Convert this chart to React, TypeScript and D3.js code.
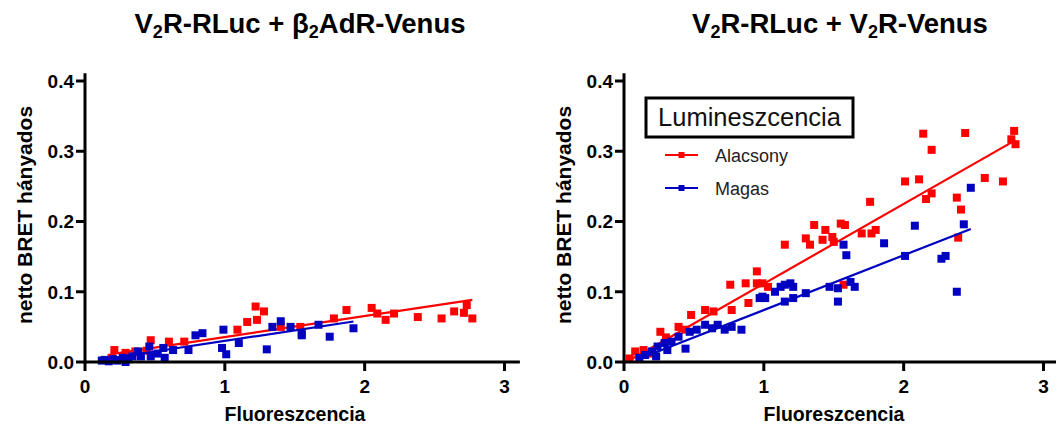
import React from "react";
import * as d3 from "d3";

// V2R-RLuc + β2AdR-Venus : [fluorescence, net BRET ratio]
const b2LowPoints: [number, number][] = [
  [0.19, 0.006], [0.21, 0.017], [0.29, 0.013], [0.36, 0.015], [0.44, 0.016],
  [0.47, 0.031], [0.6, 0.029], [0.71, 0.029], [1.09, 0.046], [1.16, 0.057],
  [1.22, 0.079], [1.23, 0.06], [1.28, 0.072], [1.4, 0.05], [1.54, 0.05],
  [1.78, 0.062], [1.87, 0.074], [2.05, 0.077], [2.09, 0.069], [2.15, 0.06],
  [2.21, 0.069], [2.38, 0.064], [2.55, 0.062], [2.64, 0.072], [2.71, 0.07],
  [2.73, 0.081], [2.77, 0.062],
];
const b2HighPoints: [number, number][] = [
  [0.12, 0.002], [0.14, 0.003], [0.17, 0.001], [0.2, 0.004], [0.23, 0.002],
  [0.27, 0.006], [0.29, 0.0], [0.31, 0.004], [0.34, 0.008], [0.38, 0.015],
  [0.4, 0.008], [0.46, 0.022], [0.47, 0.008], [0.52, 0.012], [0.56, 0.02],
  [0.57, 0.006], [0.63, 0.017], [0.74, 0.017], [0.79, 0.038], [0.84, 0.041],
  [0.98, 0.02], [0.99, 0.046], [1.01, 0.011], [1.1, 0.027], [1.3, 0.018],
  [1.34, 0.05], [1.4, 0.058], [1.47, 0.05], [1.55, 0.038], [1.55, 0.041],
  [1.67, 0.053], [1.75, 0.036], [1.92, 0.048],
];

// V2R-RLuc + V2R-Venus
const v2LowPoints: [number, number][] = [
  [0.04, 0.005], [0.08, 0.015], [0.14, 0.017], [0.2, 0.012], [0.26, 0.043],
  [0.3, 0.035], [0.39, 0.05], [0.44, 0.046], [0.48, 0.067], [0.58, 0.074],
  [0.64, 0.072], [0.76, 0.11], [0.77, 0.074], [0.87, 0.112], [0.89, 0.084],
  [0.95, 0.129], [0.95, 0.112], [0.99, 0.112], [1.03, 0.107], [1.15, 0.167],
  [1.3, 0.176], [1.33, 0.167], [1.36, 0.195], [1.42, 0.174], [1.44, 0.188],
  [1.49, 0.178], [1.5, 0.171], [1.55, 0.197], [1.57, 0.11], [1.58, 0.195],
  [1.7, 0.183], [1.76, 0.228], [1.77, 0.183], [1.8, 0.188], [2.01, 0.257],
  [2.11, 0.26], [2.14, 0.325], [2.16, 0.232], [2.2, 0.24], [2.2, 0.302],
  [2.38, 0.234], [2.39, 0.177], [2.41, 0.217], [2.44, 0.326], [2.58, 0.262],
  [2.71, 0.257], [2.77, 0.317], [2.79, 0.329], [2.8, 0.31],
];
const v2HighPoints: [number, number][] = [
  [0.11, 0.006], [0.15, 0.01], [0.2, 0.015], [0.23, 0.008], [0.24, 0.022],
  [0.29, 0.027], [0.31, 0.017], [0.34, 0.029], [0.39, 0.036], [0.44, 0.019],
  [0.47, 0.043], [0.52, 0.046], [0.58, 0.053], [0.63, 0.048], [0.67, 0.053],
  [0.72, 0.046], [0.77, 0.05], [0.84, 0.046], [0.97, 0.091], [0.99, 0.093],
  [1.01, 0.091], [1.08, 0.1], [1.12, 0.107], [1.15, 0.11], [1.15, 0.086],
  [1.19, 0.112], [1.21, 0.107], [1.21, 0.091], [1.3, 0.098], [1.47, 0.107],
  [1.53, 0.105], [1.53, 0.086], [1.57, 0.167], [1.59, 0.152], [1.62, 0.114],
  [1.65, 0.107], [1.86, 0.169], [2.01, 0.151], [2.08, 0.194], [2.27, 0.147],
  [2.3, 0.151], [2.38, 0.1], [2.43, 0.196], [2.48, 0.248],
];

// linear fits [slope, intercept]
const b2LowFit: [number, number] = [0.03, 0.0054];
const b2HighFit: [number, number] = [0.03, 0.0];
const v2LowFit: [number, number] = [0.1135, -0.002];
const v2HighFit: [number, number] = [0.078, -0.004];

const xTicks = [0, 1, 2, 3];
const yTicks = [0, 0.1, 0.2, 0.3, 0.4];
const legendTitle = "Lumineszcencia";
const seriesNames = ["Alacsony", "Magas"];

const RED = "#ff0000";
const BLUE = "#0000c0";
const FONT = "'Liberation Sans', Arial, Helvetica, sans-serif";

type Series = { pts: [number, number][]; fit: [number, number]; color: string };

function Panel({ off, series, title, legend }: { off: number; series: Series[]; title: React.ReactNode; legend?: boolean }) {
  const x = d3.scaleLinear().domain([0, 3]).range([85 + off, 504.5 + off]);
  const y = d3.scaleLinear().domain([0, 0.4]).range([362, 81]);
  const ms = 8;
  return (
    <g fontFamily={FONT}>
      {title}
      {series.map((s, i) => {
        const [x0, x1] = d3.extent(s.pts, (p) => p[0]) as [number, number];
        const line = d3.line<number>()
          .x((v) => x(v))
          .y((v) => y(s.fit[0] * v + s.fit[1]));
        return (
          <g key={i}>
            <path d={line([x0, x1]) || ""} stroke={s.color} strokeWidth={2.2} fill="none" />
            {s.pts.map((p, j) => (
              <rect key={j} x={x(p[0]) - ms / 2} y={y(p[1]) - ms / 2} width={ms} height={ms} fill={s.color} />
            ))}
          </g>
        );
      })}
      {/* axes */}
      <line x1={x(0)} x2={x(3.11)} y1={y(0)} y2={y(0)} stroke="#000" strokeWidth={3} />
      <line x1={x(0)} x2={x(0)} y1={y(0) + 1.5} y2={y(0.411)} stroke="#000" strokeWidth={3} />
      {xTicks.map((t) => (
        <g key={t}>
          <line x1={x(t)} x2={x(t)} y1={y(0)} y2={y(0) + 9} stroke="#000" strokeWidth={3} />
          <text x={x(t)} y={393} textAnchor="middle" fontSize={19} fontWeight="bold">{t}</text>
        </g>
      ))}
      {yTicks.map((t) => (
        <g key={t}>
          <line x1={x(0)} x2={x(0) - 9} y1={y(t)} y2={y(t)} stroke="#000" strokeWidth={3} />
          <text x={x(0) - 11} y={y(t)} dy="0.36em" textAnchor="end" fontSize={19} fontWeight="bold">{t.toFixed(1)}</text>
        </g>
      ))}
      <text transform={`translate(${32 + off},215) rotate(-90)`} textAnchor="middle" fontSize={21} fontWeight="bold">netto BRET hányados</text>
      <text x={295 + off} y={421} textAnchor="middle" fontSize={19.5} fontWeight="bold">Fluoreszcencia</text>
      {legend && (
        <g>
          <rect x={646} y={98} width={207} height={39} fill="#fff" stroke="#000" strokeWidth={3} />
          <text x={749.5} y={126} textAnchor="middle" fontSize={25.5} fill="#111">{legendTitle}</text>
          {seriesNames.map((n, i) => {
            const ly = 155 + i * 33;
            const c = series[i].color;
            return (
              <g key={n}>
                <line x1={665} x2={698} y1={ly} y2={ly} stroke={c} strokeWidth={2.2} />
                <rect x={678.5} y={ly - 3} width={6} height={6} fill={c} />
                <text x={715} y={ly + 7} fontSize={18} fill="#222">{n}</text>
              </g>
            );
          })}
        </g>
      )}
    </g>
  );
}

function Title({ cx, parts }: { cx: number; parts: [string, string][] }) {
  return (
    <text x={cx} y={33} textAnchor="middle" fontSize={27.5} fontWeight="bold">
      {parts.map(([main, sub], i) => (
        <React.Fragment key={i}>
          <tspan dy={i === 0 ? 0 : -5}>{main}</tspan>
          {sub && <tspan fontSize={18} dy={5}>{sub}</tspan>}
        </React.Fragment>
      ))}
    </text>
  );
}

export default function App() {
  return (
    <svg width={1056} height={433} style={{ position: "absolute", left: 0, top: 0, background: "#fff" }}>
      <Panel
        off={0}
        series={[
          { pts: b2LowPoints, fit: b2LowFit, color: RED },
          { pts: b2HighPoints, fit: b2HighFit, color: BLUE },
        ]}
        title={<Title cx={300} parts={[["V", "2"], ["R-RLuc + β", "2"], ["AdR-Venus", ""]]} />}
      />
      <Panel
        off={539}
        legend
        series={[
          { pts: v2LowPoints, fit: v2LowFit, color: RED },
          { pts: v2HighPoints, fit: v2HighFit, color: BLUE },
        ]}
        title={<Title cx={840} parts={[["V", "2"], ["R-RLuc + V", "2"], ["R-Venus", ""]]} />}
      />
    </svg>
  );
}
